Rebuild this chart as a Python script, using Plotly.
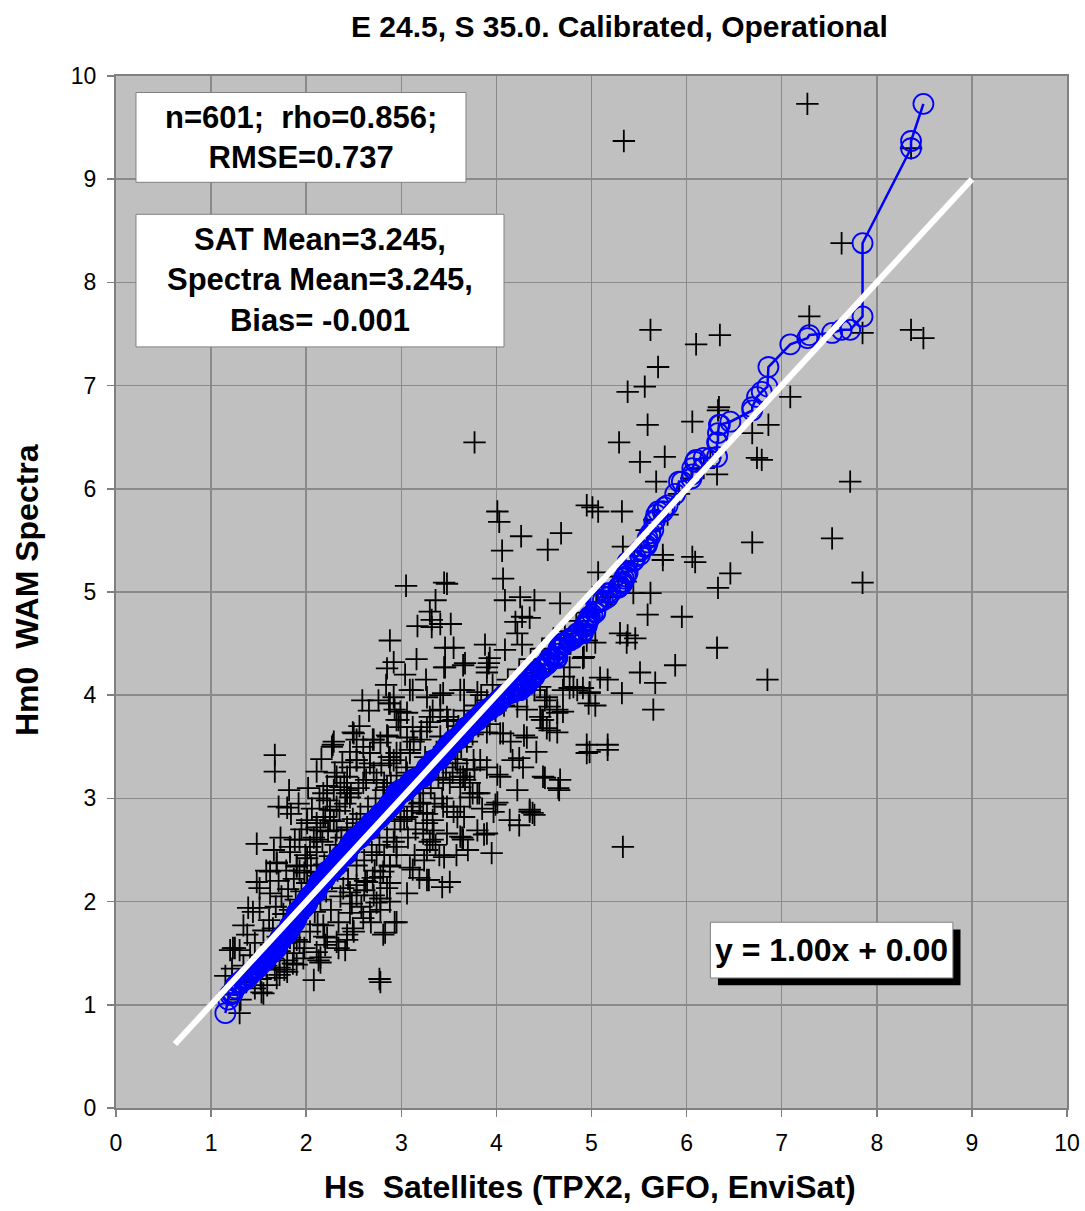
import plotly.graph_objects as go

# ---------------- data ----------------
upper_outliers = [
    (7.27, 9.73), (5.34, 9.37), (8.36, 9.30), (7.63, 8.38), (5.62, 7.54), (6.35, 7.49),
    (6.10, 7.40), (5.70, 7.18), (5.56, 6.99), (5.38, 6.94), (7.29, 7.67), (6.34, 6.79),
    (6.33, 6.76), (5.59, 6.62), (6.06, 6.65), (5.29, 6.45), (5.51, 6.26), (5.77, 6.31),
    (5.68, 6.07), (3.77, 6.45), (4.01, 5.78), (4.03, 5.68), (4.26, 5.54), (4.68, 5.57),
    (4.54, 5.41), (4.06, 5.40), (4.95, 5.84), (5.01, 5.82), (5.07, 5.78), (5.32, 5.78),
    (4.07, 5.13), (3.05, 5.06), (3.45, 5.09), (3.48, 5.08), (3.36, 4.92), (3.30, 4.81),
    (3.32, 4.73), (3.17, 4.67), (3.32, 4.66), (3.41, 4.69), (3.52, 4.69), (2.88, 4.53),
    (2.92, 4.32), (2.85, 4.26), (3.46, 4.46), (3.55, 4.46), (3.45, 4.27), (3.67, 4.31),
    (4.09, 4.92), (4.25, 4.95), (4.40, 4.92), (4.67, 4.89), (4.27, 4.76), (4.35, 4.75),
    (4.20, 4.71), (4.22, 4.60), (4.27, 4.49), (4.09, 4.44), (3.88, 4.49), (3.93, 4.36),
    (3.92, 4.31), (3.90, 4.22), (3.90, 4.27), (3.65, 4.29),
]

right_outliers = [
    (8.49, 7.46), (8.36, 7.54), (7.85, 7.51), (7.09, 6.89), (6.86, 6.62), (6.69, 6.54),
    (6.74, 6.30), (6.79, 6.28), (6.32, 6.14), (7.72, 6.07), (6.69, 5.48), (7.53, 5.52),
    (7.85, 5.09), (5.33, 5.44), (5.75, 5.36), (5.75, 5.31), (6.06, 5.34), (6.09, 5.29),
    (6.46, 5.18), (6.33, 5.04), (5.07, 5.19), (5.62, 4.99), (5.44, 4.99), (5.59, 4.78),
    (5.95, 4.76), (5.30, 4.60), (5.38, 4.58), (5.46, 4.55), (5.37, 4.51), (5.04, 4.51),
    (4.91, 4.36), (6.32, 4.46), (5.88, 4.29), (6.85, 4.15), (5.09, 4.17), (5.17, 4.15),
    (5.51, 4.22), (5.67, 4.12), (5.32, 4.02), (4.98, 4.03), (5.04, 3.90), (5.65, 3.86),
    (5.17, 3.52), (4.95, 3.52), (5.33, 2.53), (4.98, 3.45), (5.17, 3.47), (4.95, 4.53),
    (4.92, 4.37), (4.77, 4.27), (4.71, 4.18), (4.77, 4.07), (4.85, 4.05), (4.97, 3.92),
]

mid_cluster = [
    (4.40, 4.05), (4.51, 3.95), (4.56, 3.89), (4.64, 3.83), (4.48, 3.76), (4.53, 3.68),
    (4.29, 3.61), (4.04, 3.63), (3.90, 3.64), (4.98, 4.02), (4.46, 4.08), (4.53, 3.98),
    (4.64, 3.86), (4.70, 3.84), (4.46, 3.79), (4.49, 3.76), (4.56, 3.66), (4.64, 3.64),
    (4.32, 3.59), (4.07, 3.63), (4.22, 3.89), (4.32, 3.86), (4.17, 3.37), (4.49, 3.21),
    (4.67, 3.18), (4.65, 3.10), (4.22, 3.08), (4.35, 2.89), (4.38, 2.86), (4.24, 3.39),
    (4.51, 3.20), (4.66, 3.08), (4.95, 3.44), (4.01, 3.23), (3.99, 2.94), (3.97, 2.87),
    (4.14, 2.79), (4.24, 2.74), (4.35, 2.87), (4.40, 2.84), (3.87, 2.65), (3.95, 2.47),
    (3.76, 3.37), (3.77, 3.28), (3.72, 3.15), (3.82, 3.05), (3.67, 3.18), (3.62, 3.21),
    (3.48, 2.92), (3.55, 2.87), (3.66, 2.82), (3.64, 2.62), (3.51, 2.19), (3.43, 2.14),
    (3.29, 2.21), (3.19, 2.23), (3.06, 2.08), (3.09, 2.33), (3.40, 2.45), (3.45, 2.43),
    (3.27, 2.50), (3.30, 2.58), (3.34, 2.69), (3.48, 2.66), (3.62, 2.63), (4.04, 3.21),
    (4.01, 2.96), (3.83, 3.37), (3.90, 3.30), (3.80, 3.05), (3.72, 3.01), (3.62, 3.11),
    (3.69, 3.28), (3.54, 3.25), (3.51, 3.15), (3.62, 2.92), (3.59, 2.82), (3.44, 2.92),
    (3.33, 2.79), (3.23, 2.86), (3.12, 2.92), (3.06, 2.82), (3.23, 2.66), (3.33, 2.60),
    (3.80, 2.69), (3.90, 2.66), (3.65, 2.60), (3.12, 2.31), (3.27, 2.21),
    (3.12, 4.05), (3.44, 4.02), (3.62, 4.05), (3.80, 4.03), (3.46, 4.27), (2.92, 3.98),
    (3.09, 4.05), (3.27, 3.98), (3.41, 4.00), (3.66, 4.05), (2.87, 3.92), (2.99, 3.84),
    (2.95, 3.76), (3.30, 3.74), (3.41, 3.86), (3.48, 3.79), (3.55, 3.76), (2.59, 3.95),
    (2.50, 3.63), (2.71, 3.57), (2.85, 3.61), (2.29, 3.55), (3.06, 3.59), (4.81, 4.08),
    (4.70, 4.05), (4.91, 4.07),
    (3.06, 3.83), (3.12, 3.69), (3.30, 3.79), (3.27, 3.69), (3.20, 3.57), (3.09, 3.44),
    (3.38, 3.34), (3.44, 3.18), (3.06, 3.08), (3.20, 2.96), (3.27, 2.76), (3.59, 3.34),
    (3.65, 3.21), (3.75, 3.05), (3.20, 3.18),
]

lower_cluster = [
    (1.67, 3.42), (1.67, 3.26), (1.82, 3.08), (1.71, 2.92), (1.80, 2.91), (1.48, 2.56),
    (2.08, 1.24), (2.77, 1.25), (2.83, 1.70), (2.93, 1.80), (2.11, 3.26), (2.27, 3.50),
    (2.95, 2.53), (2.88, 2.34), (2.78, 2.24), (2.85, 2.13), (2.74, 1.99), (2.71, 2.06),
    (2.61, 2.11), (2.53, 2.06), (2.46, 1.89), (2.50, 1.71), (2.43, 1.63), (2.34, 1.55),
    (2.41, 1.53), (2.15, 1.46), (2.13, 1.43), (2.19, 1.66), (1.90, 1.63), (1.98, 1.55),
    (1.87, 1.50), (1.80, 1.43), (1.77, 1.34), (1.67, 1.34), (1.72, 1.29), (1.69, 2.37),
    (1.83, 2.53), (1.90, 2.34), (1.98, 2.28), (2.01, 2.79), (2.11, 2.76), (2.15, 2.69),
    (2.20, 2.82), (2.25, 2.89), (2.32, 3.21), (2.40, 3.15), (2.43, 3.08), (2.46, 3.01),
    (2.53, 3.37), (2.61, 3.30), (2.67, 3.44), (2.46, 3.45), (2.29, 3.08), (2.82, 3.15),
    (2.92, 3.37), (2.99, 3.44), (3.09, 3.47), (3.06, 3.25),
    (2.88, 3.92), (2.93, 3.86), (2.97, 3.76), (2.99, 3.69), (2.28, 3.52), (2.49, 3.64),
    (2.53, 3.57), (2.60, 3.50), (2.70, 3.57), (2.78, 3.54), (2.86, 3.60),
    (2.18, 3.05), (2.22, 2.98), (2.32, 2.92), (2.43, 3.21), (2.46, 3.30), (2.53, 3.37),
    (2.67, 3.34), (2.60, 3.15), (2.43, 3.05), (2.36, 3.11), (2.74, 3.18), (2.85, 3.11),
    (2.88, 3.34), (2.88, 3.40), (2.95, 3.44),
    (2.01, 2.76), (2.11, 2.72), (2.18, 2.82), (2.25, 2.79), (2.32, 2.69), (2.43, 2.72),
    (2.53, 2.76), (2.11, 2.60), (1.93, 2.60), (2.04, 2.53),
    (1.48, 2.19), (1.51, 2.13), (1.62, 2.29), (1.69, 2.38), (1.83, 2.48), (1.90, 2.35),
    (2.01, 2.42), (2.11, 2.29),
    (1.39, 1.94), (1.44, 1.90), (1.51, 1.94), (1.34, 1.77), (1.38, 1.68), (1.23, 1.55),
    (1.30, 1.53), (1.25, 1.55), (1.20, 1.53), (1.30, 0.92), (1.46, 1.16), (1.53, 1.12),
    (1.65, 1.74), (1.76, 1.71), (1.83, 1.65), (1.93, 1.61), (2.04, 1.71), (2.18, 1.77),
    (2.22, 1.65), (2.11, 1.51), (2.15, 1.41), (1.97, 1.45), (1.90, 1.39), (1.72, 1.36),
    (1.80, 1.32), (1.69, 1.26), (1.59, 1.19), (1.55, 1.11),
    (2.32, 1.61), (2.43, 1.68), (2.49, 1.74), (2.60, 1.84), (2.67, 1.90), (2.78, 2.03),
    (2.88, 2.00), (2.95, 1.80), (2.81, 1.68), (2.78, 1.22),
    (2.39, 2.13), (2.46, 2.09), (2.53, 2.16), (2.64, 2.19), (2.70, 2.23), (2.81, 2.29),
    (2.88, 2.35), (2.95, 2.45), (2.74, 2.45),
]

core_band = [
    (1.15, 1.28), (1.18, 1.10), (1.22, 1.35), (1.26, 1.20), (1.31, 1.05), (1.34, 1.38),
    (1.37, 1.22), (1.41, 1.48), (1.43, 1.32), (1.46, 1.60), (1.50, 1.42), (1.52, 1.25),
    (1.55, 1.72), (1.57, 1.50), (1.58, 1.38),
    (1.61, 1.82), (1.63, 1.58), (1.65, 1.45), (1.68, 1.95), (1.70, 1.66), (1.72, 1.52),
    (1.74, 2.05), (1.76, 1.88), (1.78, 1.60), (1.81, 2.12), (1.83, 1.92), (1.85, 1.75),
    (1.87, 2.22), (1.89, 2.02), (1.91, 1.84), (1.93, 2.30), (1.95, 2.10), (1.97, 1.93),
    (1.99, 2.45), (1.62, 2.08), (1.71, 2.20), (1.79, 2.30), (1.88, 2.60), (1.95, 2.70),
    (1.66, 2.50), (1.73, 2.62), (1.58, 2.30), (1.84, 2.85), (1.92, 2.95), (1.86, 1.40),
    (2.01, 2.18), (2.03, 1.98), (2.05, 2.35), (2.07, 2.12), (2.09, 1.90), (2.11, 2.48),
    (2.13, 2.25), (2.15, 2.02), (2.17, 2.58), (2.19, 2.36), (2.21, 2.10), (2.23, 2.68),
    (2.25, 2.44), (2.27, 2.22), (2.29, 2.78), (2.31, 2.55), (2.33, 2.30), (2.35, 2.88),
    (2.37, 2.62), (2.39, 2.40), (2.41, 2.95), (2.43, 2.70), (2.45, 2.48), (2.47, 3.05),
    (2.49, 2.80), (2.06, 2.90), (2.14, 3.00), (2.22, 3.12), (2.30, 3.25), (2.38, 3.35),
    (2.12, 1.78), (2.26, 1.92), (2.36, 2.05), (2.44, 2.22), (2.08, 2.62), (2.20, 1.58),
    (2.34, 1.80), (2.48, 1.98), (2.02, 3.10), (2.16, 3.38),
    (2.51, 2.58), (2.53, 2.35), (2.55, 3.10), (2.57, 2.85), (2.59, 2.62), (2.61, 2.40),
    (2.63, 3.18), (2.65, 2.92), (2.67, 2.70), (2.69, 2.48), (2.71, 3.25), (2.73, 3.00),
    (2.75, 2.78), (2.77, 2.55), (2.79, 3.32), (2.81, 3.08), (2.83, 2.85), (2.85, 2.62),
    (2.87, 3.40), (2.89, 3.15), (2.91, 2.92), (2.93, 2.70), (2.95, 3.22), (2.97, 2.98),
    (2.99, 2.78), (2.56, 3.70), (2.66, 3.85), (2.76, 3.95), (2.84, 4.10), (2.62, 2.20),
    (2.72, 2.30), (2.82, 2.45), (2.92, 2.58), (2.58, 1.95), (2.68, 1.80), (2.78, 1.92),
    (2.88, 2.18),
    (3.01, 3.05), (3.03, 2.80), (3.05, 3.30), (3.07, 2.62), (3.09, 3.12), (3.11, 2.88),
    (3.13, 3.55), (3.15, 2.70), (3.17, 3.20), (3.19, 2.95), (3.21, 3.65), (3.23, 3.05),
    (3.25, 3.40), (3.27, 2.85), (3.29, 3.30), (3.31, 3.10), (3.33, 3.85), (3.35, 2.95),
    (3.37, 3.45), (3.39, 3.20), (3.41, 3.60), (3.43, 3.00), (3.45, 3.50), (3.47, 3.30),
    (3.49, 3.75), (3.04, 4.20), (3.16, 4.35), (3.26, 4.15), (3.14, 2.45), (3.24, 2.40),
    (3.36, 2.55),
    (3.51, 3.45), (3.54, 3.60), (3.57, 3.38), (3.60, 3.70), (3.63, 3.50), (3.66, 3.85),
    (3.69, 3.55), (3.72, 3.75), (3.75, 3.62), (3.78, 3.90), (3.81, 3.70), (3.84, 4.00),
    (3.87, 3.80), (3.90, 3.95), (3.93, 3.72), (3.96, 4.10), (3.99, 3.85), (3.58, 2.45),
    (3.70, 2.50), (3.85, 2.90),
    (4.02, 4.00), (4.08, 3.90), (4.12, 4.15), (4.18, 4.05), (4.24, 4.25), (4.30, 4.10),
    (4.36, 4.35), (4.42, 4.22), (4.48, 4.45), (4.55, 4.30), (4.60, 4.55), (4.66, 4.40),
    (4.72, 4.62), (4.78, 4.50), (4.84, 4.72), (4.90, 4.60), (4.96, 4.80), (4.15, 3.55),
    (4.28, 3.30), (4.42, 3.45),
    (5.05, 4.90), (5.12, 5.05), (5.20, 4.95), (5.28, 5.15), (5.36, 5.10), (5.45, 5.30),
    (5.52, 5.45), (5.58, 5.60), (5.66, 5.70), (5.80, 5.75), (5.92, 5.95), (6.05, 6.10),
    (6.18, 6.20), (6.25, 6.30),
]

# regression line reported on the chart and its drawn x-extent
trend_slope = 1.00
trend_intercept = 0.00
trend_x = [0.62, 9.0]

x_ticks = [0, 1, 2, 3, 4, 5, 6, 7, 8, 9, 10]
y_ticks = [0, 1, 2, 3, 4, 5, 6, 7, 8, 9, 10]

stats_text = "n=601;  rho=0.856;<br>RMSE=0.737"
means_text = "SAT Mean=3.245,<br>Spectra Mean=3.245,<br>Bias= -0.001"
eq_text = "y = 1.00x + 0.00"
title_text = "E 24.5, S 35.0. Calibrated, Operational"
x_title = "Hs  Satellites (TPX2, GFO, EnviSat)"
y_title = "Hm0  WAM Spectra"

# ---------------- build ----------------
all_pts = upper_outliers + right_outliers + mid_cluster + lower_cluster + core_band
sat_hs = [p[0] for p in all_pts]
wam_hm0 = [p[1] for p in all_pts]

qq_x = sorted(sat_hs)
qq_y = sorted(wam_hm0)

trend_y = [trend_slope * v + trend_intercept for v in trend_x]

FONT = "Liberation Sans, Arial, Helvetica, sans-serif"

# the page body margin is removed (see post_script), so the figure sits at (0, 0)
PL, PR, PT, PB = 116, 1067, 76, 1108          # plot-area edges in window pixels
W, H = 1085, 1211


def px_x(px):
    return (px - PL) / (PR - PL)


def px_y(py):
    return (PB - py) / (PB - PT)


fig = go.Figure()

fig.add_trace(go.Scatter(
    x=sat_hs, y=wam_hm0, mode="markers",
    marker=dict(symbol="cross-thin-open", size=16, color="black",
                line=dict(color="black", width=1.8)),
    showlegend=False, hoverinfo="skip",
))

fig.add_trace(go.Scatter(
    x=qq_x, y=qq_y, mode="lines+markers",
    line=dict(color="#0000ff", width=2.5),
    marker=dict(symbol="circle-open", size=20, color="#0000ff",
                line=dict(color="#0000ff", width=1.8)),
    showlegend=False, hoverinfo="skip",
))

fig.add_trace(go.Scatter(
    x=trend_x, y=trend_y, mode="lines",
    line=dict(color="white", width=6),
    showlegend=False, hoverinfo="skip",
))

axis_common = dict(
    range=[0, 10],
    showgrid=True, gridcolor="#8a8a8a", gridwidth=1.5,
    showline=True, linecolor="#808080", linewidth=2, mirror=True,
    ticks="outside", ticklen=7, tickcolor="#808080", tickwidth=1.5,
    tickfont=dict(family=FONT, size=23, color="black"),
    zeroline=False, fixedrange=True,
)

fig.update_xaxes(**axis_common, tickvals=x_ticks, ticktext=[str(v) for v in x_ticks],
                 ticklabelstandoff=6)
fig.update_yaxes(**axis_common, tickvals=y_ticks, ticktext=[str(v) for v in y_ticks],
                 ticklabelstandoff=6)

fig.update_layout(
    width=W, height=H,
    margin=dict(l=PL, r=W - PR, t=PT, b=H - PB, autoexpand=False),
    paper_bgcolor="white", plot_bgcolor="#c0c0c0",
    font=dict(family=FONT, color="black"),
    hovermode=False,
)

# boxes (drawn as shapes, text as annotations)
shapes = [
    dict(type="rect", xref="x", yref="y", x0=0.21, x1=3.68, y0=8.97, y1=9.84,
         fillcolor="white", line=dict(color="#808080", width=1), layer="above"),
    dict(type="rect", xref="x", yref="y", x0=0.21, x1=4.08, y0=7.375, y1=8.66,
         fillcolor="white", line=dict(color="#808080", width=1), layer="above"),
    dict(type="rect", xref="x", yref="y", x0=6.33, x1=8.88, y0=1.19, y1=1.73,
         fillcolor="black", line=dict(color="black", width=0), layer="above"),
    dict(type="rect", xref="x", yref="y", x0=6.25, x1=8.80, y0=1.26, y1=1.80,
         fillcolor="white", line=dict(color="#808080", width=1), layer="above"),
]
fig.update_layout(shapes=shapes)

box_font = dict(family=FONT, size=31, color="black", weight="bold")
fig.add_annotation(x=1.945, y=9.405, xref="x", yref="y", text=stats_text, showarrow=False,
                   font=box_font, align="center", xanchor="center", yanchor="middle")
fig.add_annotation(x=2.145, y=8.02, xref="x", yref="y", text=means_text, showarrow=False,
                   font=box_font, align="center", xanchor="center", yanchor="middle")
fig.add_annotation(x=7.525, y=1.53, xref="x", yref="y", text=eq_text, showarrow=False,
                   font=dict(family=FONT, size=32, color="black", weight="bold"),
                   align="center", xanchor="center", yanchor="middle")

# title and axis titles
fig.add_annotation(x=px_x(619), y=px_y(27), xref="paper", yref="paper",
                   text=title_text, showarrow=False, xanchor="center", yanchor="middle",
                   font=dict(family=FONT, size=30, color="black", weight="bold"))
fig.add_annotation(x=px_x(590), y=px_y(1187), xref="paper", yref="paper",
                   text=x_title, showarrow=False, xanchor="center", yanchor="middle",
                   font=dict(family=FONT, size=32, color="black", weight="bold"))
fig.add_annotation(x=px_x(27), y=px_y(590), xref="paper", yref="paper",
                   text=y_title, showarrow=False, textangle=-90,
                   xanchor="center", yanchor="middle",
                   font=dict(family=FONT, size=32, color="black", weight="bold"))

fig.write_html(
    "out.html",
    config={"displayModeBar": False, "staticPlot": True},
    post_script="document.body.style.margin='0px'; document.body.style.overflow='hidden';",
)
